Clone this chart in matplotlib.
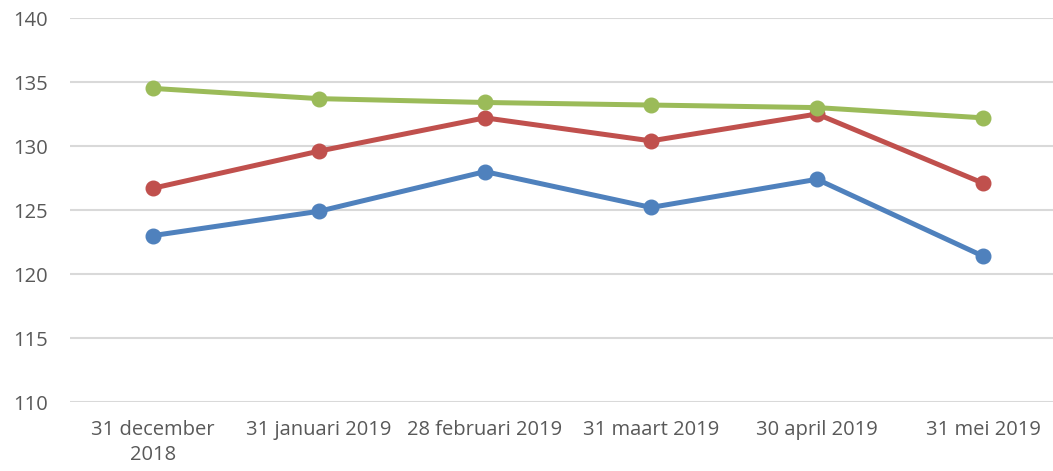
import matplotlib.pyplot as plt
import numpy as np

# Data
dates = ["31 december\n2018", "31 januari 2019", "28 februari 2019",
         "31 maart 2019", "30 april 2019", "31 mei 2019"]
blue_vals = [123.0, 124.9, 128.0, 125.2, 127.4, 121.4]
red_vals = [126.7, 129.6, 132.2, 130.4, 132.5, 127.1]
green_vals = [134.5, 133.7, 133.4, 133.2, 133.0, 132.2]
y_ticks = [110, 115, 120, 125, 130, 135, 140]

plt.rcParams["font.family"] = ["Open Sans", "DejaVu Sans"]

fig = plt.figure(figsize=(10.53, 4.71), dpi=100)
# axes runs a little past the right edge, as in the cropped original
ax = fig.add_axes([70 / 1053, 1 - 402 / 471, 996 / 1053, 384 / 471])

x = np.arange(len(dates))
for vals, col in [(blue_vals, "#4F81BD"), (red_vals, "#C0504D"), (green_vals, "#9BBB59")]:
    ax.plot(x, vals, color=col, lw=3.6, marker="o", markersize=10.5,
            solid_capstyle="round", zorder=3)

ax.set_xlim(-0.5, len(dates) - 0.5)
ax.set_ylim(110, 140)
ax.set_yticks(y_ticks)
ax.set_xticks(x)
ax.set_xticklabels(dates, linespacing=1.3)

ax.grid(axis="y", color="#D9D9D9", lw=1.5)
ax.set_axisbelow(True)
for s in ax.spines.values():
    s.set_visible(False)
ax.tick_params(axis="both", length=0, labelsize=14.5, labelcolor="#595959")
ax.tick_params(axis="y", pad=16)
ax.tick_params(axis="x", pad=13)

fig.savefig("out.png", dpi=100)
